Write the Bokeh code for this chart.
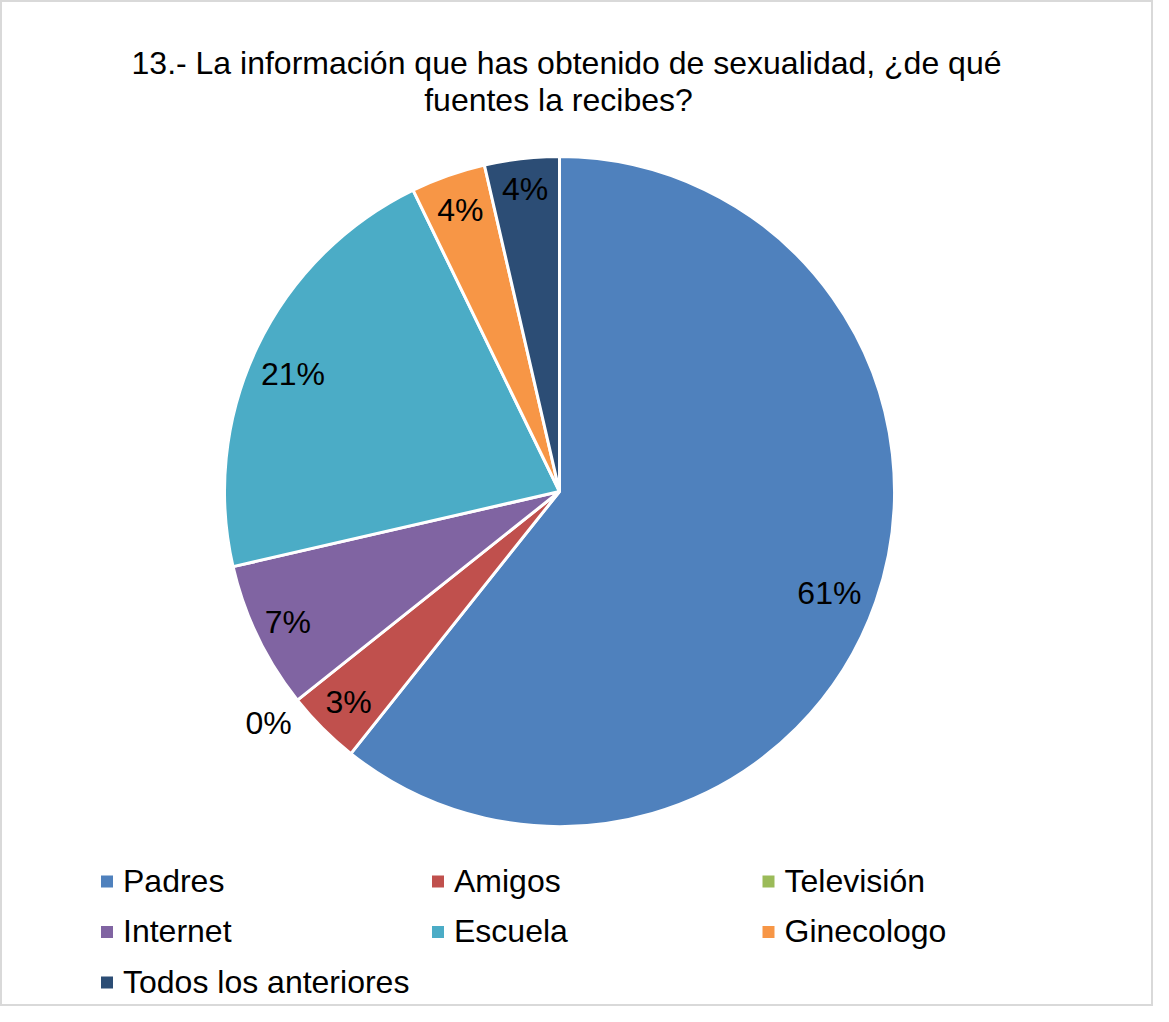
import numpy as np
from bokeh.plotting import figure
from bokeh.models import Range1d, ColumnDataSource
from bokeh.core.properties import value
from bokeh.embed import file_html
from bokeh.resources import INLINE

# ---- data ----
categories = ["Padres", "Amigos", "Televisión", "Internet", "Escuela", "Ginecologo", "Todos los anteriores"]
shares = [60.7, 3.6, 0.0, 7.1, 21.4, 3.6, 3.6]
pct_labels = ["61%", "3%", "0%", "7%", "21%", "4%", "4%"]
colors = ["#4F81BD", "#C0504D", "#9BBB59", "#8064A2", "#4BACC6", "#F79646", "#2C4D75"]
title_lines = ["13.- La información que has obtenido de sexualidad, ¿de qué", "fuentes la recibes?"]

# ---- layout (picture px, y measured from top) ----
W, H = 1153, 1006
FONT = "Liberation Sans"
FS = "32px"
def sy(y):  # picture y -> data y (y up)
    return -y

cx, cy, R = 559, sy(491), 335
label_factor = [0.861, 0.89, 1.11, 0.90, 0.87, 0.89, 0.91]
label_dang = [-1.4, 0, 0, 0, 1.7, 0, 0]   # degrees

p = figure(width=W, height=H, output_backend="svg", toolbar_location=None,
           x_range=Range1d(0, W), y_range=Range1d(sy(H), sy(0)),
           min_border=0, background_fill_color="white", border_fill_color="white")
p.axis.visible = False
p.grid.visible = False
p.outline_line_color = "#D9D9D9"
p.outline_line_width = 3

tot = sum(shares)
fr = np.array(shares) / tot
cum = np.concatenate([[0], np.cumsum(fr)])
start = np.pi / 2 - cum[:-1] * 2 * np.pi
end = np.pi / 2 - cum[1:] * 2 * np.pi
keep = fr > 0
src = ColumnDataSource(dict(start=start[keep], end=end[keep],
                            color=[c for c, k in zip(colors, keep) if k]))
p.wedge(x=cx, y=cy, radius=R, start_angle="start", end_angle="end", direction="clock",
        fill_color="color", line_color="white", line_width=3, source=src)

mid = (start + end) / 2 + np.radians(label_dang)
lx = cx + R * np.array(label_factor) * np.cos(mid)
ly = cy + R * np.array(label_factor) * np.sin(mid)
p.text(x=lx, y=ly, text=pct_labels, text_font=value(FONT), text_font_size=FS,
       text_align="center", text_baseline="middle", text_color="black")

# title
p.text(x=[566, 558], y=[sy(62.5), sy(99.5)], text=title_lines, text_font=value(FONT),
       text_font_size=FS, text_align="center", text_baseline="middle", text_color="black")

# legend
col_x = [106.5, 437.5, 768]
row_y = [881, 931.5, 982]
mx, my, tx, ty = [], [], [], []
for i, c in enumerate(categories):
    r, k = divmod(i, 3)
    mx.append(col_x[k]); my.append(sy(row_y[r]))
    tx.append(col_x[k] + 16); ty.append(sy(row_y[r] - 1))
p.rect(x=mx, y=my, width=12, height=12, fill_color=colors, line_color=None)
p.text(x=tx, y=ty, text=categories, text_font=value(FONT), text_font_size=FS,
       text_align="left", text_baseline="middle", text_color="black")

open("out.html", "w").write(file_html(p, INLINE))
